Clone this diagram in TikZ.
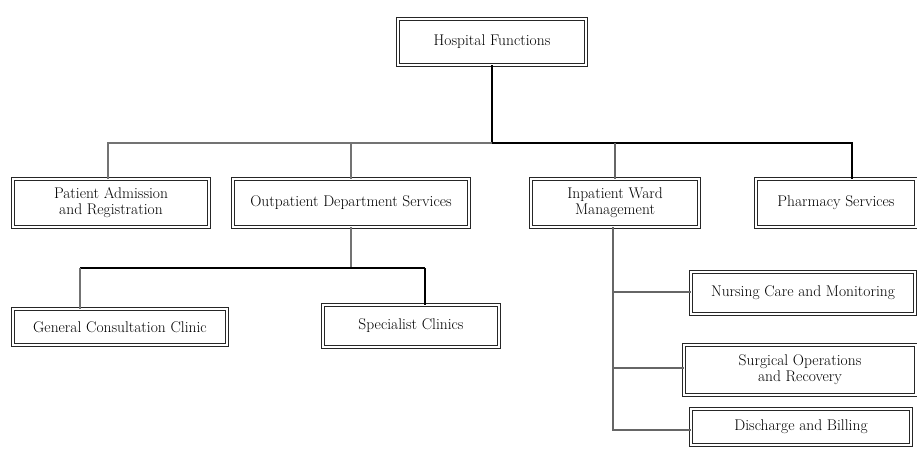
\documentclass[tikz,border=0pt]{standalone}
\usetikzlibrary{calc}
\begin{document}
\begin{tikzpicture}[x=1pt,y=-1pt,
  box/.style={draw=black!85, line width=0.9pt, double=white, double distance=1.6pt, fill=white,
    align=center, inner sep=2pt, font=\fontsize{15.5}{16}\selectfont},
  conn/.style={draw=black!55, line width=2pt},
  connb/.style={draw=black, line width=2.2pt},
  connt/.style={draw=black!60, line width=1.2pt}]
\useasboundingbox (0,0) rectangle (917,449);
% nodes
\node[box, minimum width=188, minimum height=46] (top) at (492,42) {Hospital Functions};
\node[box, minimum width=196, minimum height=48] (A) at (111,203) {Patient Admission\\and Registration};
\node[box, minimum width=236, minimum height=48] (B) at (351,203) {Outpatient Department Services};
\node[box, minimum width=168, minimum height=48] (C) at (615,203) {Inpatient Ward\\Management};
\node[box, minimum width=160, minimum height=48] (D) at (836,203) {Pharmacy Services};
\node[box, minimum width=214, minimum height=36] (E) at (120,327) {General Consultation Clinic};
\node[box, minimum width=176, minimum height=42] (F) at (411,326) {Specialist Clinics};
\node[box, minimum width=224, minimum height=42] (G) at (803,293) {Nursing Care and Monitoring};
\node[box, minimum width=232, minimum height=50] (H) at (800,370) {Surgical Operations\\and Recovery};
\node[box, minimum width=220, minimum height=36] (I) at (801,427) {Discharge and Billing};
% junctions
\coordinate (j0) at (492,143);
\coordinate (jL) at (108,143);
\coordinate (jD) at (852,143);
\coordinate (k0) at (351,268);
\coordinate (kE) at (80,268);
\coordinate (kF) at (425,268);
\coordinate (c0) at (613,229);
\coordinate (cG) at (613,292);
\coordinate (cH) at (613,368);
\coordinate (cI) at (613,430);
% connectors
\draw[connb] (top.south) -- (j0);
\draw[conn] (j0) -- (jL) -- (jL |- A.north);
\draw[conn] (B.north |- j0) -- (B.north);
\draw[connb] (j0) -- (jD) -- (jD |- D.north);
\draw[connt] (C.north |- j0) -- (C.north);
\draw[conn] (B.south) -- (k0);
\draw[connb] (kE) -- (kF);
\draw[conn] (kE) -- (kE |- E.north);
\draw[connb] (kF) -- (kF |- F.north);
\draw[connt] (C.south -| c0) -- (cI) -- (cI -| I.west);
\draw[connt] (cG) -- (cG -| G.west);
\draw[connt] (cH) -- (cH -| H.west);
\end{tikzpicture}
\end{document}
